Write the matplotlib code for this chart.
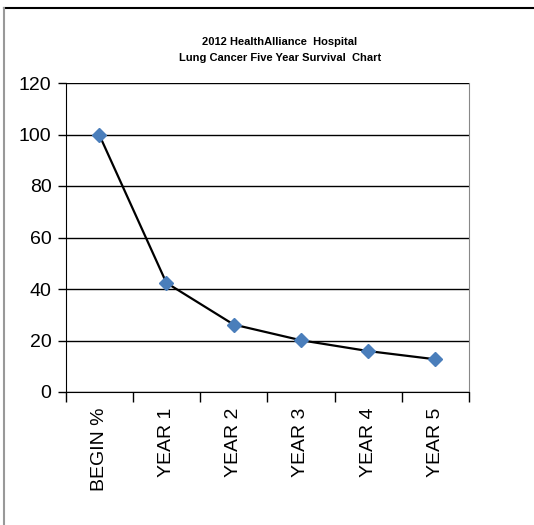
import matplotlib.pyplot as plt
from matplotlib.lines import Line2D

categories = ['BEGIN %', 'YEAR 1', 'YEAR 2', 'YEAR 3', 'YEAR 4', 'YEAR 5']
survival = [100, 42.4, 26.2, 20.1, 15.9, 12.7]
yticks = [0, 20, 40, 60, 80, 100, 120]

W, H = 534, 525
fig = plt.figure(figsize=(W / 100, H / 100), dpi=100)
fig.patch.set_facecolor('white')

# outer frame (only top and left visible in the picture)
fig.add_artist(Line2D([4 / W, 1], [1 - 8 / H, 1 - 8 / H], color='black', lw=1.5))
fig.add_artist(Line2D([4 / W, 4 / W], [0, 1 - 8 / H], color='#999999', lw=1.5))

left, right, top, bottom = 65.5, 469, 83, 392
ax = fig.add_axes([left / W, 1 - bottom / H, (right - left) / W, (bottom - top) / H])

x = list(range(len(categories)))
ax.plot(x, survival, color='black', lw=1.6, zorder=3)
ax.plot(x, survival, ls='none', marker='D', ms=7, color='#4a7ebb', zorder=4)

ax.set_xlim(-0.5, len(categories) - 0.5)
ax.set_ylim(0, 120)
ax.set_yticks(yticks)
ax.set_yticklabels([str(v) for v in yticks], family='Liberation Sans', fontsize=14)
ax.set_xticks([i - 0.5 for i in range(len(categories) + 1)], minor=False)
ax.set_xticklabels([''] * (len(categories) + 1))
ax.set_xticks(x, minor=True)
ax.set_xticklabels(categories, minor=True, rotation=90, family='Liberation Sans', fontsize=14)
ax.tick_params(axis='x', which='minor', length=0, pad=11)
ax.tick_params(axis='x', which='major', length=7, width=1, direction='out')
ax.tick_params(axis='y', length=6, width=1, direction='out', pad=4)

ax.grid(axis='y', color='black', lw=1)
ax.set_axisbelow(True)
ax.spines['top'].set_visible(False)
ax.spines['right'].set_color('#888888')
ax.spines['left'].set_color('black')
ax.spines['bottom'].set_color('black')

fig.text(280 / W, 1 - 42 / H, '2012 HealthAlliance  Hospital', ha='center', va='center',
         family='Liberation Sans', fontweight='bold', fontsize=8)
fig.text(280 / W, 1 - 58 / H, 'Lung Cancer Five Year Survival  Chart', ha='center', va='center',
         family='Liberation Sans', fontweight='bold', fontsize=8)

fig.savefig('out.png', dpi=100)
